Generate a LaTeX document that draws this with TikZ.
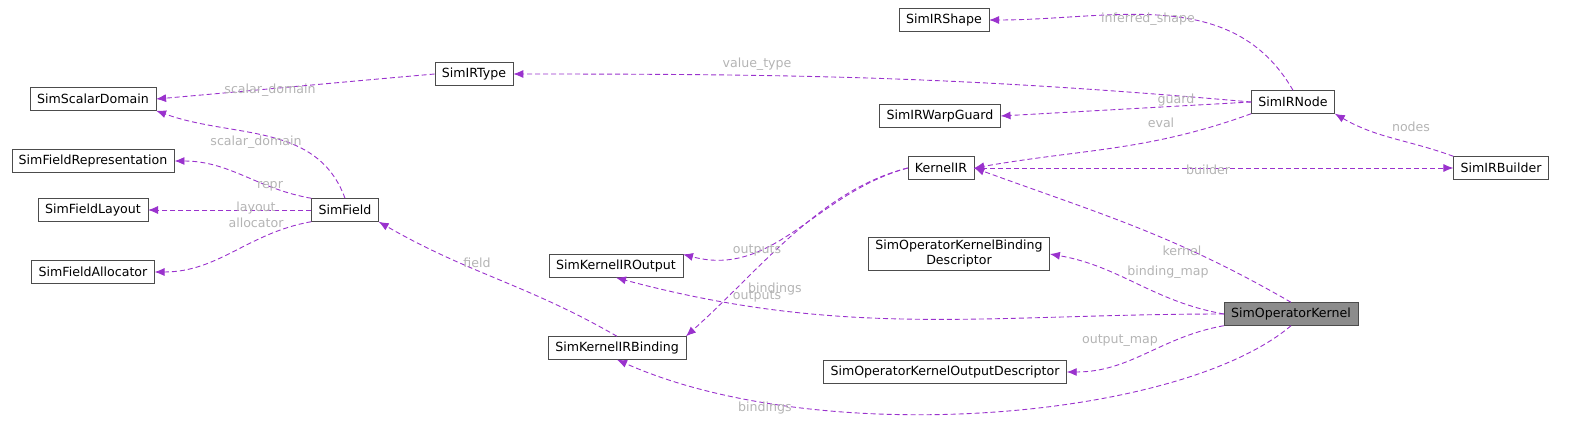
\documentclass[tikz,border=0pt]{standalone}
\usepackage{fontspec}
\setmainfont{DejaVu Sans}
\usetikzlibrary{arrows.meta}
\definecolor{edgecol}{HTML}{9A32CD}
\definecolor{lblcol}{HTML}{B4B4B4}
\tikzset{%
    Class node/.style={%
        draw=black!70,
        fill=white,
        font=\fontsize{12.6}{15}\selectfont,
        minimum height=23pt,
        inner xsep=7pt,
        inner ysep=3pt,
        align=center
    },
    Focus node/.style={%
        Class node,
        fill=black!45
    },
    Use edge/.style={%
        edgecol,
        line width=0.9pt,
        dash pattern=on 5pt off 3pt,
        -{Latex[length=10pt,width=8pt]}
    },
    Use label/.style={%
        text=lblcol,
        font=\fontsize{12.6}{15}\selectfont,
        inner sep=1pt
    }
}
\begin{document}
\begin{tikzpicture}[x=1pt,y=-1pt]
\useasboundingbox (0,0) rectangle (1577,436);

% classes
\node[Class node] (shape)   at (944,20)  {SimIRShape};
\node[Class node] (irtype)  at (474,74)  {SimIRType};
\node[Class node] (scalar)  at (93,99)   {SimScalarDomain};
\node[Class node] (irnode)  at (1293,102) {SimIRNode};
\node[Class node] (warp)    at (940,116) {SimIRWarpGuard};
\node[Class node] (repr)    at (93,161)  {SimFieldRepresentation};
\node[Class node] (kir)     at (941,168) {KernelIR};
\node[Class node] (builder) at (1501,168) {SimIRBuilder};
\node[Class node] (layout)  at (93,210)  {SimFieldLayout};
\node[Class node] (field)   at (345,210) {SimField};
\node[Class node] (bdesc)   at (959,254) {SimOperatorKernelBinding\\Descriptor};
\node[Class node] (kout)    at (616,266) {SimKernelIROutput};
\node[Class node] (alloc)   at (93,272)  {SimFieldAllocator};
\node[Focus node] (kernel)  at (1291,314) {SimOperatorKernel};
\node[Class node] (kbind)   at (617,348) {SimKernelIRBinding};
\node[Class node] (odesc)   at (945,372) {SimOperatorKernelOutputDescriptor};

% usage edges
\draw[Use edge] (irnode.north) to[out=120,in=0] (shape.east);
\draw[Use edge] (irnode.west) to[out=175,in=0] (irtype.east);
\draw[Use edge] (irtype.west) to[out=185,in=5] (scalar.east);
\draw[Use edge] (irnode.west) -- (warp.east);
\draw[Use edge] (irnode.south west) to[out=200,in=10] (kir.east);
\draw[Use edge] (builder.north west) to[out=160,in=-30] (irnode.south east);
\draw[Use edge] (kir.east) -- (builder.west);
\draw[Use edge] (field.north) to[out=110,in=-20] (scalar.south east);
\draw[Use edge] (field.north west) to[out=170,in=0] (repr.east);
\draw[Use edge] (field.west) -- (layout.east);
\draw[Use edge] (field.south west) to[out=190,in=0] (alloc.east);
\draw[Use edge] (kbind.north) to[out=150,in=-30] (field.south east);
\draw[Use edge] (kir.west) to[out=195,in=-15] (kout.north east);
\draw[Use edge] (kir.west) .. controls (820,190) and (760,270) .. (kbind.north east);
\draw[Use edge] (kernel.north) to[out=150,in=-20] (kir.east);
\draw[Use edge] (kernel.west) to[out=170,in=-10] (bdesc.east);
\draw[Use edge] (kernel.west) to[out=180,in=-15] (kout.south);
\draw[Use edge] (kernel.south west) to[out=190,in=0] (odesc.east);
\draw[Use edge] (kernel.south) .. controls (1180,420) and (820,450) .. (kbind.south);

% labels
\node[Use label] at (1148,19)  {inferred\_shape};
\node[Use label] at (757,64)   {value\_type};
\node[Use label] at (270,90)   {scalar\_domain};
\node[Use label] at (1176,100) {guard};
\node[Use label] at (1161,123) {eval};
\node[Use label] at (1411,127) {nodes};
\node[Use label] at (1208,170) {builder};
\node[Use label] at (256,142)  {scalar\_domain};
\node[Use label] at (270,186)  {repr};
\node[Use label] at (256,208)  {layout};
\node[Use label] at (256,223)  {allocator};
\node[Use label] at (477,263)  {field};
\node[Use label] at (757,250)  {outputs};
\node[Use label] at (775,289)  {bindings};
\node[Use label] at (1182,251) {kernel};
\node[Use label] at (1168,272) {binding\_map};
\node[Use label] at (757,296)  {outputs};
\node[Use label] at (1120,341) {output\_map};
\node[Use label] at (765,408)  {bindings};
\end{tikzpicture}
\end{document}
